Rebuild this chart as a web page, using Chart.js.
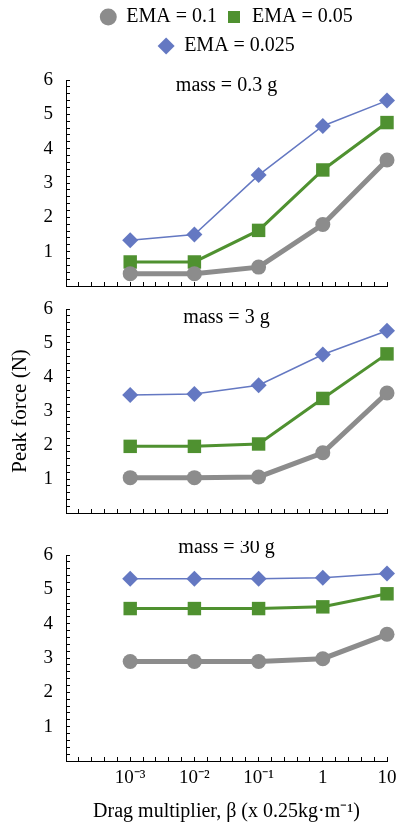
<!DOCTYPE html>
<html>
<head>
<meta charset="utf-8">
<title>Peak force vs drag multiplier</title>
<script src="https://cdn.jsdelivr.net/npm/chart.js@4"></script>
<style>
    html, body { margin: 0; padding: 0; background: #fff; }
    #page { position: relative; width: 401px; height: 826px; overflow: hidden; }
    .panel { position: absolute; left: 0; width: 401px; }
</style>
</head>
<body>
<div id="page">
    <div class="panel" style="top:0;height:300px"><canvas id="panelTop"></canvas></div>
    <div class="panel" style="top:295px;height:232px"><canvas id="panelMid"></canvas></div>
    <div class="panel" style="top:541px;height:285px"><canvas id="panelBottom"></canvas></div>
</div>
<script>
// ============================================
// Peak force vs drag multiplier, three masses
// ============================================

// x is log10 of the drag multiplier
const dragExponents = [-3, -2, -1, 0, 1];
const dragTickLabels = ["10⁻³", "10⁻²", "10⁻¹", "1", "10"];
const emaLabels = ["EMA = 0.1", "EMA = 0.05", "EMA = 0.025"];
const massLabels = ["mass = 0.3 g", "mass = 3 g", "mass = 30 g"];

// peak force (N), one array per EMA and mass
const mass03Ema01 = [0.36, 0.36, 0.55, 1.79, 3.67];
const mass03Ema005 = [0.70, 0.70, 1.62, 3.38, 4.76];
const mass03Ema0025 = [1.33, 1.50, 3.23, 4.66, 5.40];

const mass3Ema01 = [1.04, 1.04, 1.06, 1.77, 3.53];
const mass3Ema005 = [1.96, 1.96, 2.03, 3.37, 4.68];
const mass3Ema0025 = [3.47, 3.50, 3.76, 4.66, 5.36];

const mass30Ema01 = [2.90, 2.90, 2.90, 2.98, 3.69];
const mass30Ema005 = [4.44, 4.44, 4.44, 4.49, 4.87];
const mass30Ema0025 = [5.31, 5.31, 5.31, 5.34, 5.46];

const seriesStyles = [
    { color: "#8c8c8c", width: 5, point: "circle", radius: 7.5 },
    { color: "#4f9130", width: 3, point: "rect", radius: 9.5 },
    { color: "#6478c2", width: 1.5, point: "rectRot", radius: 8 }
];

Chart.defaults.font.family = '"Liberation Serif", "Times New Roman", serif';
Chart.defaults.color = "#000";

function makeDatasets(seriesList) {
    return seriesList.map((values, i) => {
        const style = seriesStyles[i];
        return {
            label: emaLabels[i],
            data: values.map((v, j) => ({ x: dragExponents[j], y: v })),
            borderColor: style.color,
            backgroundColor: style.color,
            pointBackgroundColor: style.color,
            borderWidth: style.width,
            pointStyle: style.point,
            pointRadius: style.radius,
            pointHoverRadius: style.radius,
            pointBorderWidth: 0,
            tension: 0,
            clip: false
        };
    });
}

function dragTickLabel(value) {
    const i = dragExponents.findIndex((e) => Math.abs(e - value) < 1e-6);
    return i >= 0 ? dragTickLabels[i] : "";
}

function forceTickLabel(value) {
    const whole = Math.abs(value - Math.round(value)) < 1e-6;
    return whole && value > 0.5 ? String(Math.round(value)) : "";
}

function buildPanel(canvasId, seriesList, title, settings) {
    const axisBorder = { color: "#000", width: 1 };
    const tickGrid = { drawOnChartArea: false, tickLength: -4, tickColor: "#000", tickWidth: 1 };

    new Chart(document.getElementById(canvasId), {
        type: "line",
        data: { datasets: makeDatasets(seriesList) },
        options: {
            responsive: true,
            maintainAspectRatio: false,
            animation: false,
            layout: { padding: { top: settings.padTop, right: 14, bottom: 0, left: 0 } },
            plugins: {
                legend: {
                    display: settings.legend,
                    fullSize: false,
                    labels: {
                        usePointStyle: true,
                        boxWidth: 16,
                        boxHeight: 12,
                        padding: 9,
                        font: { size: 20 }
                    }
                },
                title: {
                    display: true,
                    text: title,
                    fullSize: false,
                    weight: 100,
                    font: { size: 20, weight: "normal" },
                    padding: settings.titlePadding
                },
                tooltip: { enabled: false }
            },
            scales: {
                x: {
                    type: "linear",
                    min: -4,
                    max: 1,
                    afterFit: (scale) => {
                        scale.height = settings.xHeight;
                        scale.paddingLeft = 0;
                        scale.paddingRight = 0;
                    },
                    border: axisBorder,
                    grid: tickGrid,
                    ticks: {
                        stepSize: 0.2,
                        autoSkip: false,
                        maxRotation: 0,
                        padding: 10,
                        font: { size: 19 },
                        callback: (v) => settings.xLabels ? dragTickLabel(v) : ""
                    },
                    title: {
                        display: settings.xTitle,
                        text: "Drag multiplier, β (x 0.25kg·m⁻¹)",
                        font: { size: 20 },
                        padding: { top: 0, bottom: 2 }
                    }
                },
                y: {
                    min: 0,
                    max: 6,
                    afterFit: (scale) => {
                        scale.width = 66;
                        scale.paddingTop = 0;
                        scale.paddingBottom = 0;
                    },
                    border: axisBorder,
                    grid: tickGrid,
                    ticks: {
                        stepSize: 0.2,
                        autoSkip: false,
                        padding: 17,
                        font: { size: 19 },
                        callback: forceTickLabel
                    },
                    title: {
                        display: settings.yTitle,
                        text: "Peak force (N)",
                        font: { size: 21 },
                        padding: { top: 8, bottom: 0 }
                    }
                }
            }
        }
    });
}

buildPanel("panelTop", [mass03Ema01, mass03Ema005, mass03Ema0025], massLabels[0], {
    legend: true, padTop: -2, titlePadding: { top: 8, bottom: -18 },
    xHeight: 14, xLabels: false, xTitle: false, yTitle: false
});

buildPanel("panelMid", [mass3Ema01, mass3Ema005, mass3Ema0025], massLabels[1], {
    legend: false, padTop: 0, titlePadding: { top: 11, bottom: -21 },
    xHeight: 14, xLabels: false, xTitle: false, yTitle: true
});

buildPanel("panelBottom", [mass30Ema01, mass30Ema005, mass30Ema0025], massLabels[2], {
    legend: false, padTop: 0, titlePadding: { top: -5, bottom: -5 },
    xHeight: 65, xLabels: true, xTitle: true, yTitle: false
});
</script>
</body>
</html>
